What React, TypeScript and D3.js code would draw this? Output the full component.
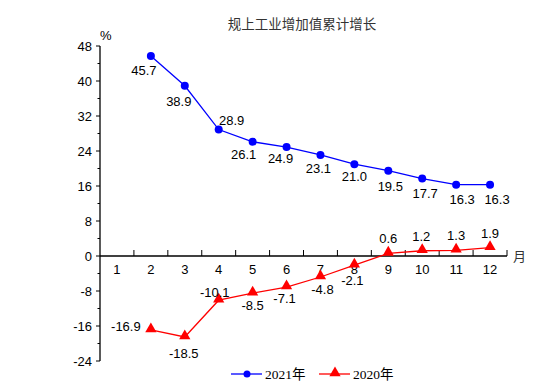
import React, { useEffect, useRef } from 'react';
import * as d3 from 'd3';

// chart values
const months = ['1', '2', '3', '4', '5', '6', '7', '8', '9', '10', '11', '12'];
const growth2021: (number | null)[] = [null, 45.7, 38.9, 28.9, 26.1, 24.9, 23.1, 21.0, 19.5, 17.7, 16.3, 16.3];
const growth2020: (number | null)[] = [null, -16.9, -18.5, -10.1, -8.5, -7.1, -4.8, -2.1, 0.6, 1.2, 1.3, 1.9];
const yTicks = [-24, -16, -8, 0, 8, 16, 24, 32, 40, 48];
const seriesNames = ['2021年', '2020年'];
const title = '规上工业增加值累计增长';

// label offsets (dx, dy) relative to each point
const off2021 = [[0, 0], [-7, 14], [-6, 15], [13, -10], [-9, 12], [-6, 11], [-2, 13], [0, 12], [2, 15], [3, 14], [6, 14], [7, 14]];
const off2020 = [[0, 0], [-25, -4], [-1, 16], [-4, -8], [0, 12], [-2, 11], [2, 12], [-2, 15], [0, -15], [-1, -15], [0, -15], [0, -15]];

const App = () => {
  const svgRef = useRef<SVGSVGElement>(null);

  useEffect(() => {
    const svg = d3.select(svgRef.current);
    svg.selectAll('*').remove();

    const W = 554, H = 386;
    const left = 100, right = 507, top = 46, bottom = 361;
    const sans = '"Liberation Sans", Arial, sans-serif';
    const serif = '"Liberation Serif", "Noto Sans CJK SC", serif';

    svg.attr('width', W).attr('height', H);
    svg.append('rect').attr('width', W).attr('height', H).attr('fill', '#fff');

    const x = d3.scaleBand().domain(months).range([left, right]);
    const y = d3.scaleLinear().domain([-24, 48]).range([bottom, top]);
    const cx = (i: number) => (x(months[i]) as number) + x.bandwidth() / 2;

    // title
    svg.append('text')
      .attr('x', 302).attr('y', 29)
      .attr('text-anchor', 'middle')
      .style('font-family', '"Noto Sans CJK SC", serif')
      .style('font-size', '13.5px')
      .attr('fill', '#333')
      .text(title);

    // y axis
    const yAxis = svg.append('g').attr('transform', `translate(${left},0)`);
    yAxis.append('line').attr('y1', y(-24)).attr('y2', y(48)).attr('stroke', '#000').attr('stroke-width', 1.3);
    d3.range(-24, 49, 4).forEach(v => {
      const major = v % 8 === 0;
      yAxis.append('line')
        .attr('x1', major ? -4 : -2.5).attr('x2', 0)
        .attr('y1', y(v)).attr('y2', y(v))
        .attr('stroke', '#000').attr('stroke-width', 1);
    });
    yAxis.selectAll('text.tick')
      .data(yTicks)
      .enter()
      .append('text')
      .attr('x', -8).attr('y', d => y(d) + 4.5)
      .attr('text-anchor', 'end')
      .style('font-family', sans).style('font-size', '13px')
      .text(d => d);
    svg.append('text')
      .attr('x', 100).attr('y', 40)
      .style('font-family', sans).style('font-size', '13px')
      .text('%');

    // x axis at zero
    const xAxis = svg.append('g').attr('transform', `translate(0,${y(0)})`);
    xAxis.append('line').attr('x1', left).attr('x2', right).attr('stroke', '#000').attr('stroke-width', 1.3);
    months.forEach((m, i) => {
      const bx = (x(m) as number) + x.bandwidth();
      xAxis.append('line').attr('x1', bx).attr('x2', bx).attr('y1', 0).attr('y2', -6).attr('stroke', '#000');
      xAxis.append('text')
        .attr('x', cx(i)).attr('y', 18)
        .attr('text-anchor', 'middle')
        .style('font-family', sans).style('font-size', '13px')
        .text(m);
    });
    xAxis.append('text')
      .attr('x', 513).attr('y', 5)
      .style('font-family', '"Noto Sans CJK SC", sans-serif').style('font-size', '13px')
      .attr('fill', '#333')
      .text('月');

    const line = d3.line<number | null>()
      .defined(d => d !== null)
      .x((d, i) => cx(i))
      .y(d => y(d as number));

    // 2021 series
    svg.append('path').datum(growth2021)
      .attr('fill', 'none').attr('stroke', '#0000ff').attr('stroke-width', 1.3)
      .attr('d', line);
    growth2021.forEach((v, i) => {
      if (v === null) return;
      svg.append('circle').attr('cx', cx(i)).attr('cy', y(v)).attr('r', 4).attr('fill', '#0000ff');
      svg.append('text')
        .attr('x', cx(i) + off2021[i][0]).attr('y', y(v) + off2021[i][1] + 5)
        .attr('text-anchor', 'middle')
        .style('font-family', sans).style('font-size', '13px')
        .text(v.toFixed(1));
    });

    // 2020 series
    const tri = d3.symbol().type(d3.symbolTriangle).size(55);
    svg.append('path').datum(growth2020)
      .attr('fill', 'none').attr('stroke', '#ff0000').attr('stroke-width', 1.3)
      .attr('d', line);
    growth2020.forEach((v, i) => {
      if (v === null) return;
      svg.append('path').attr('d', tri()).attr('transform', `translate(${cx(i)},${y(v) - 1})`).attr('fill', '#ff0000');
      svg.append('text')
        .attr('x', cx(i) + off2020[i][0]).attr('y', y(v) + off2020[i][1] + 5)
        .attr('text-anchor', 'middle')
        .style('font-family', sans).style('font-size', '13px')
        .text(v.toFixed(1));
    });

    // legend
    const legend = svg.append('g').attr('transform', 'translate(0,374)');
    legend.append('line').attr('x1', 231).attr('x2', 262).attr('stroke', '#0000ff').attr('stroke-width', 1.3);
    legend.append('circle').attr('cx', 247).attr('r', 3.5).attr('fill', '#0000ff');
    legend.append('text').attr('x', 265).attr('y', 5)
      .style('font-family', serif).style('font-size', '13.5px').text(seriesNames[0]);
    legend.append('line').attr('x1', 319).attr('x2', 350).attr('stroke', '#ff0000').attr('stroke-width', 1.3);
    legend.append('path').attr('d', tri()).attr('transform', 'translate(335,-1)').attr('fill', '#ff0000');
    legend.append('text').attr('x', 353).attr('y', 5)
      .style('font-family', serif).style('font-size', '13.5px').text(seriesNames[1]);
  }, []);

  return (
    <svg ref={svgRef} style={{ position: 'absolute', left: 0, top: 0, display: 'block' }}></svg>
  );
};

export default App;
